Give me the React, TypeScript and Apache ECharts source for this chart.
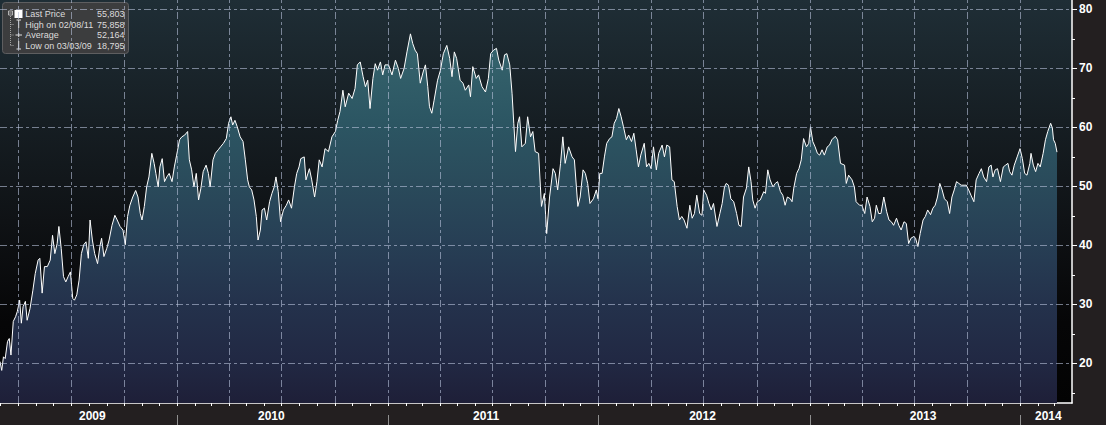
import React, { useEffect, useRef } from "react";
import * as echarts from "echarts";

// ---- data ----
const START_DATE = "2009-02-28";
const END_DATE = "2014-03-31";

// day offsets from START_DATE and the price read at each of them
const dayOffsets = [
  0, 3, 6, 9, 13, 16, 19, 23, 27, 30, 34, 37, 40, 44, 47, 52, 57, 61, 66, 69, 73, 77, 82, 87, 91, 95, 99, 102, 106, 110,
  114, 118, 122, 126, 129, 133, 137, 141, 145, 149, 153, 156, 160, 164, 169, 173, 176, 180, 185, 189, 194, 199, 203, 208,
  213, 217, 221, 225, 230, 235, 239, 243, 246, 250, 254, 258, 263, 267, 270, 274, 277, 281, 285, 289, 293, 298, 302, 306,
  311, 315, 320, 325, 328, 332, 336, 340, 344, 348, 352, 357, 361, 364, 369, 373, 378, 382, 387, 392, 396, 400, 403, 407,
  411, 416, 421, 425, 429, 432, 436, 440, 444, 447, 451, 454, 458, 462, 467, 471, 475, 478, 482, 486, 491, 496, 500, 505,
  510, 514, 518,
  521, 527, 530, 536, 540, 545, 549, 553, 558, 563, 569, 575, 581, 585, 589, 594, 598, 604, 610, 615, 619, 624, 629, 633,
  637, 641, 646, 650, 654, 659, 663, 667, 673, 679, 685, 690, 694, 700, 705, 711, 715, 719, 723, 728, 733, 737, 741, 744,
  748, 752, 758, 763, 768, 774, 779, 783, 787, 791, 797, 802, 806, 812, 815, 819, 825, 829, 835, 841, 846, 850, 855, 860,
  864, 870, 874, 878, 883, 887, 890, 893, 897, 900, 904, 910, 914, 919, 923, 927, 933, 938, 943, 947, 952, 958, 962, 966,
  971, 975, 979, 985, 991, 995, 1001, 1005,
  1010, 1014, 1018, 1022, 1028, 1033, 1036, 1039, 1043, 1047, 1051, 1056, 1060, 1064, 1068, 1072, 1076, 1080, 1085, 1089,
  1094, 1098, 1102, 1106, 1110, 1116, 1120, 1124, 1128, 1132, 1137, 1141, 1147, 1151, 1155, 1160, 1164, 1168, 1173, 1177,
  1181, 1185, 1190, 1195, 1199, 1203, 1207, 1212, 1216, 1219, 1224, 1228, 1232, 1236, 1242, 1247, 1251, 1255, 1258, 1262,
  1266, 1271, 1276, 1280, 1284, 1288, 1293, 1297, 1301, 1304, 1308, 1312, 1317, 1323, 1326, 1330, 1334, 1339, 1343, 1347,
  1352, 1356, 1360, 1364, 1369, 1372, 1375, 1380, 1384, 1388, 1392, 1397, 1401, 1404, 1408, 1412, 1416, 1420, 1424, 1428,
  1433, 1437, 1441, 1447, 1451, 1456,
  1463, 1466, 1470, 1476, 1480, 1483, 1489, 1493, 1498, 1502, 1507, 1511, 1515, 1518, 1522, 1526, 1531, 1536, 1540, 1544,
  1548, 1553, 1557, 1561, 1566, 1570, 1574, 1578, 1583, 1586, 1590, 1594, 1599, 1603, 1607, 1612, 1616, 1620, 1624, 1628,
  1632, 1636, 1641, 1645, 1649, 1653, 1657, 1661, 1665, 1670, 1674, 1678, 1682, 1687, 1691, 1696, 1700, 1704, 1709, 1713,
  1717, 1720, 1724, 1728, 1733, 1738, 1742, 1746, 1749, 1753, 1757, 1762, 1767, 1771, 1775, 1779, 1784, 1786, 1790, 1794,
  1798, 1802, 1807, 1811, 1815, 1820, 1823, 1825, 1828, 1831,
];

const prices = [
  20.3, 18.795, 21.1, 20.8, 23.7, 24.2, 21.4, 27.1, 27.9, 28.8, 30.7, 26.8, 29.6, 30.5, 27.3, 29.3, 32.4, 35.2, 37.5, 37.8,
  31.9, 36.4, 36.4, 37.5, 41.7, 38.6, 40.3, 43.2, 39.5, 34.7, 33.8, 34.7, 35.5, 31.0, 30.7, 31.6, 34.1, 38.6, 40.1, 40.6,
  37.8, 44.3, 40.9, 38.6, 36.9, 39.8, 41.2, 38.1, 39.5, 40.9, 43.4, 45.1, 44.3, 43.2, 42.6, 40.1, 44.9, 46.8, 48.2, 49.3,
  48.2, 45.4, 44.3, 46.6, 49.9, 51.6, 55.6, 53.9, 52.2, 49.9, 53.3, 54.7, 50.8, 51.6, 52.2, 50.8, 53.3, 55.3, 57.9, 58.4,
  58.7, 59.3, 54.5, 52.8, 49.9, 52.2, 47.7, 49.7, 52.5, 53.6, 52.2, 49.9, 54.5, 55.6, 56.2, 56.7, 57.3, 58.1, 60.7, 61.8,
  60.4, 61.2, 60.1, 58.4, 57.6, 54.5, 51.1, 49.9, 49.4, 47.7, 44.9, 40.9, 42.6, 46.0, 46.3, 44.3, 47.4, 48.8, 49.9, 51.6,
  49.1, 44.0, 46.0, 46.8, 47.7, 46.3, 49.9, 52.2, 53.3,
  54.7, 55.0, 51.1, 53.0, 51.1, 48.2, 50.8, 54.5, 53.3, 56.4, 55.9, 58.4, 59.3, 61.2, 62.7, 66.3, 63.5, 65.8, 64.9, 66.6,
  70.6, 71.1, 68.6, 66.9, 68.0, 63.2, 68.3, 70.8, 69.7, 71.1, 68.9, 70.6, 70.6, 68.9, 71.4, 70.0, 68.3, 70.0, 72.8, 75.858,
  74.2, 73.1, 72.5, 67.5, 69.4, 70.6, 66.9, 63.5, 62.4, 64.6, 68.0, 69.7, 72.5, 73.9, 71.7, 68.6, 72.8, 71.7, 68.0, 67.5,
  66.3, 67.2, 65.2, 70.3, 68.3, 68.9, 66.9, 66.0, 68.3, 72.5, 73.1, 73.4, 71.4, 69.7, 72.3, 72.5, 70.6, 65.8, 60.7, 55.9,
  60.7, 61.8, 56.7, 57.3, 61.8, 58.4, 59.3, 55.9, 55.6, 46.6, 48.8, 42.0, 48.2, 53.0, 52.2, 49.4, 53.9, 58.4, 53.9, 56.7,
  55.0, 54.5, 46.6, 48.2,
  52.8, 52.2, 50.5, 47.1, 47.9, 49.4, 47.9, 52.2, 52.2, 55.0, 57.3, 58.1, 58.4, 60.7, 61.5, 63.2, 61.8, 60.1, 57.9, 58.7,
  57.6, 59.0, 56.2, 53.3, 55.3, 57.3, 53.3, 53.9, 53.0, 56.7, 52.8, 55.6, 57.0, 55.0, 57.0, 56.7, 51.1, 50.8, 46.6, 44.3,
  44.9, 44.3, 42.9, 46.8, 44.6, 45.4, 48.5, 45.4, 45.1, 49.4, 48.5, 47.1, 46.0, 47.1, 43.2, 45.4, 47.1, 49.9, 50.5, 50.2,
  47.9, 47.4, 45.4, 43.4, 43.2, 48.2, 49.7, 53.3, 50.8, 47.7, 46.3, 47.4, 47.7, 49.1, 48.8, 52.8, 51.1, 49.9, 50.5, 50.8,
  49.1, 48.5, 46.8, 48.2, 47.9, 47.4, 49.7, 52.2, 53.0, 54.5, 58.1, 56.7, 57.3, 60.1, 57.6, 56.7, 55.6, 55.3, 56.2, 55.3,
  56.7, 57.0, 57.9, 58.5, 57.9, 53.9,
  53.6, 50.5, 51.9, 51.1, 49.9, 47.4, 46.8, 46.8, 45.4, 48.2, 46.6, 44.0, 44.6, 46.8, 45.4, 45.4, 48.2, 45.7, 44.3, 44.0,
  43.4, 44.6, 43.4, 42.6, 44.0, 43.7, 40.3, 41.2, 41.5, 41.2, 39.8, 42.0, 44.3, 44.9, 46.0, 45.2, 46.3, 46.8, 48.2, 50.5,
  49.4, 47.9, 47.4, 45.4, 48.2, 49.4, 50.8, 50.5, 50.2, 50.2, 50.2, 49.4, 48.5, 47.4, 51.1, 52.2, 53.0, 51.6, 50.8, 53.3,
  53.6, 51.6, 52.8, 53.0, 50.8, 53.3, 53.6, 53.9, 52.5, 51.9, 53.6, 55.0, 56.4, 54.7, 52.2, 51.9, 53.9, 55.6, 53.6, 52.5,
  53.9, 53.3, 55.6, 57.9, 59.3, 60.7, 59.9, 57.9, 57.3, 55.803,
];

const yMin = 13.27;
const yMax = 81.6;
const yTicks = [20, 30, 40, 50, 60, 70, 80];
const yMinorTicks = [15, 25, 35, 45, 55, 65, 75];

const yearLabels = ["2009", "2010", "2011", "2012", "2013", "2014"];
const yearLabelDates = ["2009-08-07", "2010-06-13", "2011-06-20", "2012-06-29", "2013-07-16", "2014-02-18"];

const legendLabels = ["Last Price", "High on 02/08/11", "Average", "Low on 03/03/09"];
const legendValues = ["55,803", "75,858", "52,164", "18,795"];

// ---- helpers ----
const DAY = 86400000;
const ts = (s: string) => Date.parse(s + "T00:00:00Z");
const tMin = ts(START_DATE);
const tMax = ts(END_DATE);

const monthStarts: number[] = [];
const quarterStarts: number[] = [];
const yearStarts: number[] = [];
for (let y = 2009; y <= 2014; y++) {
  for (let m = 0; m < 12; m++) {
    const t = Date.UTC(y, m, 1);
    if (t <= tMin || t >= tMax) continue;
    monthStarts.push(t);
    if (m % 3 === 0) quarterStarts.push(t);
    if (m === 0) yearStarts.push(t);
  }
}
const yearLabelTs = yearLabelDates.map(ts);

const seriesData = dayOffsets.map((d, i) => [tMin + d * DAY, prices[i]]);

const FONT = '"Liberation Sans", Arial, sans-serif';
const GRID_LINE = "rgba(185,195,220,0.6)";
const DASH = [7, 3, 3, 3];

function legendGraphic() {
  const rowsY = [14, 24.5, 35, 45.5];
  const children: any[] = [
    {
      type: "rect",
      shape: { x: 2.5, y: 2.5, width: 126, height: 51, r: 3 },
      style: { fill: "rgba(62,62,64,0.93)", stroke: "#5e5e60", lineWidth: 1 },
    },
    // tree
    { type: "rect", shape: { x: 8.5, y: 11, width: 4, height: 4 }, style: { fill: "none", stroke: "#cfcfcf", lineWidth: 0.8 } },
    { type: "line", shape: { x1: 9.3, y1: 13, x2: 11.7, y2: 13 }, style: { stroke: "#cfcfcf", lineWidth: 0.8 } },
    { type: "line", shape: { x1: 10.5, y1: 16, x2: 10.5, y2: 46 }, style: { stroke: "#bdbdbd", lineWidth: 0.8, lineDash: [1, 1] } },
    { type: "rect", shape: { x: 14.5, y: 10, width: 8, height: 8 }, style: { fill: "#ffffff" } },
    // high icon
    { type: "line", shape: { x1: 16.5, y1: 20, x2: 21, y2: 20 }, style: { stroke: "#e0e0e0", lineWidth: 1 } },
    { type: "line", shape: { x1: 18.7, y1: 20, x2: 18.7, y2: 28 }, style: { stroke: "#e0e0e0", lineWidth: 1 } },
    // average icon
    { type: "line", shape: { x1: 15.5, y1: 35, x2: 22, y2: 35 }, style: { stroke: "#e0e0e0", lineWidth: 1 } },
    { type: "line", shape: { x1: 18.7, y1: 33, x2: 18.7, y2: 37 }, style: { stroke: "#e0e0e0", lineWidth: 1 } },
    // low icon
    { type: "line", shape: { x1: 18.7, y1: 41, x2: 18.7, y2: 49 }, style: { stroke: "#e0e0e0", lineWidth: 1 } },
    { type: "line", shape: { x1: 16.5, y1: 49, x2: 21, y2: 49 }, style: { stroke: "#e0e0e0", lineWidth: 1 } },
  ];
  [24.5, 35, 45.5].forEach((y) => {
    children.push({ type: "line", shape: { x1: 10.5, y1: y, x2: 14, y2: y }, style: { stroke: "#bdbdbd", lineWidth: 0.8, lineDash: [1, 1] } });
  });
  legendLabels.forEach((label, i) => {
    children.push({
      type: "text",
      x: 25.3,
      y: rowsY[i],
      style: { text: label, fill: "#dcdcdc", fontSize: 9, fontFamily: FONT, align: "left", verticalAlign: "middle" },
    });
    children.push({
      type: "text",
      x: 124.5,
      y: rowsY[i],
      style: { text: legendValues[i], fill: "#dcdcdc", fontSize: 9, fontFamily: FONT, align: "right", verticalAlign: "middle" },
    });
  });
  return [{ type: "group", x: 0, y: 0, z: 100, children }];
}

export default function App() {
  const ref = useRef<HTMLDivElement>(null);
  useEffect(() => {
    if (!ref.current) return;
    const chart = echarts.init(ref.current, null, { renderer: "svg" });
    const option: any = {
      animation: false,
      backgroundColor: "#231f20",
      grid: {
        left: 0,
        top: 0,
        right: 34,
        bottom: 22,
        show: true,
        borderWidth: 0,
        backgroundColor: new echarts.graphic.LinearGradient(0, 0, 0, 1, [
          { offset: 0, color: "#1f2e36" },
          { offset: 0.3, color: "#161e23" },
          { offset: 0.55, color: "#0f1215" },
          { offset: 0.8, color: "#060607" },
          { offset: 1, color: "#030303" },
        ]),
      },
      xAxis: [
        {
          type: "value",
          min: tMin,
          max: tMax,
          position: "bottom",
          axisLine: { show: true, lineStyle: { color: "#ffffff", width: 1.5 } },
          axisTick: { show: true, customValues: monthStarts, length: 3, lineStyle: { color: "#ffffff", width: 1 } },
          axisLabel: {
            show: true,
            customValues: yearLabelTs,
            formatter: (v: number) => {
              const i = yearLabelTs.indexOf(v);
              return i >= 0 ? yearLabels[i] : "";
            },
            color: "#ffffff",
            fontWeight: "bold",
            fontSize: 12,
            fontFamily: FONT,
            margin: 7,
          },
          splitLine: { show: false },
        },
        {
          type: "value",
          min: tMin,
          max: tMax,
          position: "bottom",
          offset: 12,
          axisLine: { show: false },
          axisTick: { show: true, customValues: yearStarts, length: 10, lineStyle: { color: "#8f8f8f", width: 1 } },
          axisLabel: { show: false },
          splitLine: { show: false },
        },
      ],
      yAxis: [
        {
          type: "value",
          min: yMin,
          max: yMax,
          position: "right",
          axisLine: { show: true, lineStyle: { color: "#ffffff", width: 1.5 } },
          axisTick: { show: true, customValues: yTicks, length: 5, lineStyle: { color: "#ffffff", width: 1 } },
          axisLabel: {
            show: true,
            customValues: yTicks,
            formatter: (v: number) => (Math.abs(v % 10) < 1e-6 ? String(v) : ""),
            color: "#ffffff",
            fontWeight: "bold",
            fontSize: 12,
            fontFamily: FONT,
            margin: 7,
          },
          splitLine: { show: false },
        },
        {
          type: "value",
          min: yMin,
          max: yMax,
          position: "right",
          axisLine: { show: false },
          axisTick: { show: true, customValues: yMinorTicks, length: 3, lineStyle: { color: "#ffffff", width: 1 } },
          axisLabel: { show: false },
          splitLine: { show: false },
        },
      ],
      graphic: legendGraphic(),
      series: [
        {
          type: "line",
          xAxisIndex: 0,
          yAxisIndex: 0,
          data: seriesData,
          symbol: "none",
          showSymbol: false,
          lineStyle: { color: "#ffffff", width: 1 },
          areaStyle: {
            origin: "start",
            color: new echarts.graphic.LinearGradient(
              0,
              0,
              0,
              403,
              [
                { offset: 0, color: "#3f6e76" },
                { offset: 0.1, color: "#36646d" },
                { offset: 0.3, color: "#2c5663" },
                { offset: 0.45, color: "#2a4b5b" },
                { offset: 0.6, color: "#273f55" },
                { offset: 0.75, color: "#24324c" },
                { offset: 0.9, color: "#212843" },
                { offset: 1, color: "#1e1f38" },
              ],
              true
            ),
            opacity: 1,
          },
          markLine: {
            silent: true,
            symbol: ["none", "none"],
            label: { show: false },
            lineStyle: { color: GRID_LINE, type: DASH, width: 1 },
            data: [
              ...quarterStarts.map((t) => ({ xAxis: t })),
              ...yTicks.map((v) => ({ yAxis: v })),
            ],
          },
        },
      ],
    };
    chart.setOption(option);
    return () => chart.dispose();
  }, []);
  return <div ref={ref} style={{ position: "absolute", left: 0, top: 0, width: 1106, height: 425 }} />;
}
